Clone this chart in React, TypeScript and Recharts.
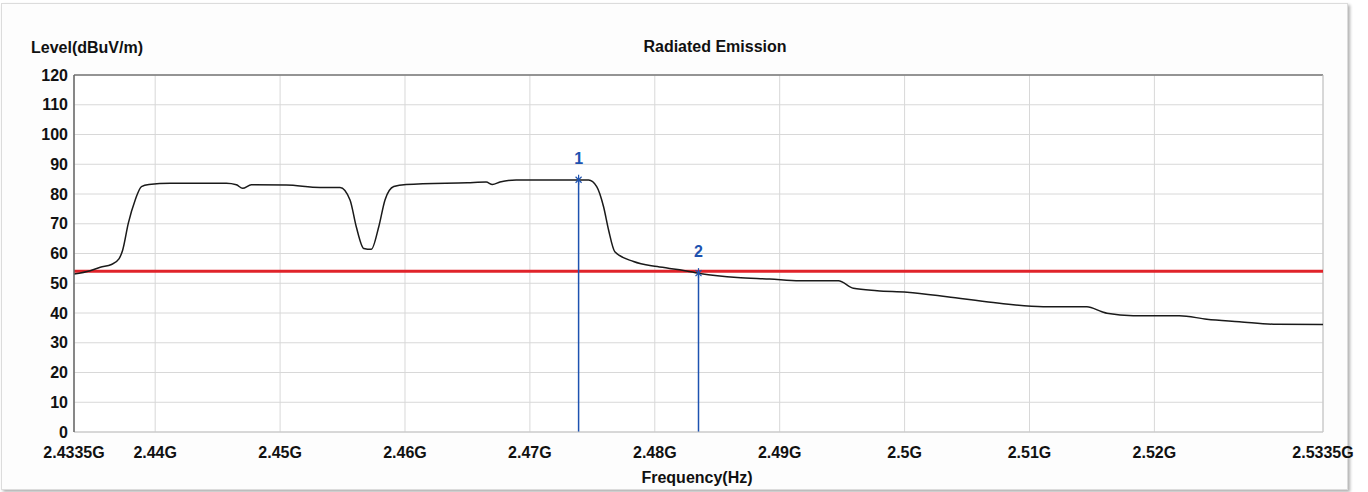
import {
  LineChart,
  Line,
  XAxis,
  YAxis,
  CartesianGrid,
  ReferenceLine,
  ReferenceDot
} from "recharts";

// trace (GHz / dBuV/m)
const freqGHz = [
  2.4335, 2.4348, 2.4356, 2.4365, 2.4371, 2.4374, 2.43785, 2.4384, 2.4389, 2.4395,
  2.4412, 2.4457, 2.4465, 2.447, 2.4477, 2.4505, 2.4532, 2.4548, 2.4556, 2.4561,
  2.4567, 2.4573, 2.4579, 2.4584, 2.4591, 2.4601, 2.465, 2.4665, 2.467, 2.4676,
  2.4689, 2.4747, 2.47535, 2.4759, 2.4763, 2.4768, 2.4783, 2.4802, 2.482, 2.4836,
  2.4866, 2.4892, 2.4916, 2.4947, 2.4959, 2.4978, 2.5002, 2.5034, 2.5071, 2.5111,
  2.5146, 2.5158, 2.5162, 2.5183, 2.522, 2.5242, 2.5268, 2.5298, 2.5335
];
const levelDb = [
  53.1, 54.2, 55.4, 56.3, 58.2, 61.2, 70.2, 78, 82.5, 83.2,
  83.6, 83.6, 83.1, 81.9, 83.1, 83.0, 82.2, 82.2, 78, 69,
  61.7, 61.4, 69, 78, 82.5, 83.2, 83.8, 84.0, 83.2, 84.0,
  84.7, 84.7, 82.5, 75.7, 67.9, 60.6, 57.3, 55.6, 54.5, 53.3,
  51.9, 51.4, 50.8, 50.8, 48.3, 47.5, 47.0, 45.5, 43.5, 42.1,
  42.1, 40.4, 39.9, 39.1, 39.1, 37.9, 37.1, 36.2, 36.1
];

const xTicks = [2.4335, 2.44, 2.45, 2.46, 2.47, 2.48, 2.49, 2.5, 2.51, 2.52, 2.5335];
const yTicks = [0, 10, 20, 30, 40, 50, 60, 70, 80, 90, 100, 110, 120];

const limitDb = 54;

const markerNames = ["1", "2"];
const markerFreq = [2.4739, 2.4835];
const markerLevel = [84.8, 53.4];

const data = freqGHz.map((f, i) => ({ f, level: levelDb[i] }));

const FONT = '"Liberation Sans", Arial, sans-serif';
const BLUE = "#1d52b0";

const fmtFreq = (v: number) => `${+v.toFixed(4)}G`;

const MarkerShape = (name: string) => (props: any) => {
  const { cx, cy } = props;
  return (
    <g>
      <line x1={cx - 3} y1={cy - 3} x2={cx + 3} y2={cy + 3} stroke={BLUE} strokeWidth={1.2} />
      <line x1={cx - 3} y1={cy + 3} x2={cx + 3} y2={cy - 3} stroke={BLUE} strokeWidth={1.2} />
      <line x1={cx} y1={cy - 5} x2={cx} y2={cy + 5} stroke={BLUE} strokeWidth={1.2} />
      <text
        x={cx}
        y={cy - 16}
        textAnchor="middle"
        fill={BLUE}
        fontFamily={FONT}
        fontWeight="bold"
        fontSize={16}
      >
        {name}
      </text>
    </g>
  );
};

export default function App() {
  return (
    <div style={{ position: "absolute", left: 0, top: 0, width: 1368, height: 492, background: "#fff" }}>
      <div
        style={{
          position: "absolute",
          left: 1,
          top: 3,
          width: 1345,
          height: 485,
          border: "1px solid #dcdcdc",
          boxShadow: "2px 2px 3px #b0b0b0",
          background: "#fdfdfd"
        }}
      />
      <div style={{ position: "absolute", left: 0, top: 0 }}>
        <LineChart
          width={1368}
          height={492}
          data={data}
          margin={{ top: 75, right: 45, left: 14, bottom: 30 }}
        >
          <CartesianGrid stroke="#d8d8d8" fill="#ffffff" />
          <XAxis
            dataKey="f"
            type="number"
            domain={[2.4335, 2.5335]}
            ticks={xTicks}
            tickFormatter={fmtFreq}
            interval={0}
            height={30}
            tickLine={false}
            tickSize={6}
            tickMargin={9}
            axisLine={{ stroke: "#c4c4c4" }}
            tick={{ fill: "#111", fontSize: 16, fontWeight: "bold", fontFamily: FONT }}
          />
          <YAxis
            type="number"
            domain={[0, 120]}
            ticks={yTicks}
            interval={0}
            width={60}
            tickLine={false}
            tickSize={4}
            tickMargin={2}
            axisLine={{ stroke: "#666", strokeWidth: 1.5 }}
            tick={{ fill: "#111", fontSize: 16, fontWeight: "bold", fontFamily: FONT }}
          />
          <ReferenceLine y={120} stroke="#777" strokeWidth={1.5} />
          <ReferenceLine x={2.5335} stroke="#c4c4c4" />
          <ReferenceLine y={limitDb} stroke="#e0232a" strokeWidth={3} />
          {markerFreq.map((m, i) => (
            <ReferenceLine
              key={"ml" + i}
              segment={[{ x: m, y: 0 }, { x: m, y: markerLevel[i] }]}
              stroke={BLUE}
              strokeWidth={1.5}
            />
          ))}
          <Line
            type="monotone"
            dataKey="level"
            stroke="#1a1a1a"
            strokeWidth={1.5}
            dot={false}
            isAnimationActive={false}
          />
          {markerFreq.map((m, i) => (
            <ReferenceDot
              key={"md" + i}
              x={m}
              y={markerLevel[i]}
              r={4}
              shape={MarkerShape(markerNames[i])}
            />
          ))}
        </LineChart>
      </div>
      <svg
        width={1368}
        height={492}
        style={{ position: "absolute", left: 0, top: 0, pointerEvents: "none" }}
      >
        <text x={31} y={53} fontFamily={FONT} fontWeight="bold" fontSize={16} fill="#111">
          Level(dBuV/m)
        </text>
        <text x={715} y={52} textAnchor="middle" fontFamily={FONT} fontWeight="bold" fontSize={16} fill="#111">
          Radiated Emission
        </text>
        <text x={697} y={483} textAnchor="middle" fontFamily={FONT} fontWeight="bold" fontSize={16} fill="#111">
          Frequency(Hz)
        </text>
      </svg>
    </div>
  );
}
